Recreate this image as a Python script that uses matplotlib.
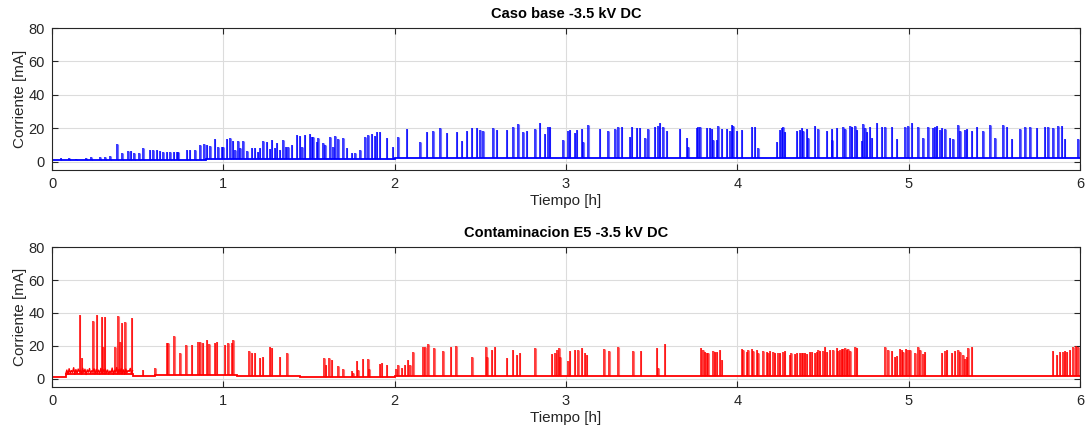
import numpy as np
import matplotlib
matplotlib.use("Agg")
import matplotlib.pyplot as plt

plt.rcParams['font.family'] = ['Liberation Sans', 'DejaVu Sans']

# ---- Caso base (blue) ----
base_edges = [0.0, 0.9, 2.0, 6.0]
base_levels = [1.0, 1.5, 2.0]

base_t = [0.05, 0.10, 0.14, 0.20, 0.23, 0.28, 0.31, 0.34, 0.38, 0.41, 0.445, 0.46, 0.48, 0.51,
          0.533, 0.57, 0.59, 0.61, 0.63, 0.65, 0.67, 0.69, 0.71, 0.73, 0.737, 0.786, 0.805,
          0.835, 0.864, 0.887, 0.903, 0.922, 0.951, 0.97, 0.99, 1.0, 1.019, 1.039, 1.054,
          1.07, 1.087, 1.10, 1.116, 1.14, 1.165, 1.184, 1.20, 1.213, 1.233, 1.253, 1.27, 1.282,
          1.30, 1.311, 1.33, 1.35, 1.365, 1.379, 1.40, 1.427, 1.447, 1.46, 1.476, 1.505, 1.516,
          1.525, 1.544, 1.555, 1.584, 1.594, 1.623, 1.64, 1.652, 1.671, 1.70, 1.72, 1.749,
          1.769, 1.798, 1.827, 1.846, 1.866, 1.885, 1.895, 1.914, 1.953, 1.988, 2.021, 2.07,
          2.148, 2.187, 2.226, 2.265, 2.303, 2.362, 2.391, 2.42, 2.449, 2.478, 2.498, 2.517,
          2.576, 2.595, 2.654, 2.692, 2.722, 2.751, 2.77, 2.819, 2.848, 2.877, 2.897, 2.906,
          2.984, 3.013, 3.023, 3.052, 3.062, 3.091, 3.101, 3.13, 3.198, 3.247, 3.286, 3.305,
          3.324, 3.373, 3.383, 3.412, 3.431, 3.461, 3.48, 3.519, 3.538, 3.548, 3.568, 3.587,
          3.665, 3.704, 3.713, 3.762, 3.772, 3.782, 3.82, 3.84, 3.85, 3.859, 3.879, 3.889,
          3.908, 3.937, 3.957, 3.966, 3.976, 3.996, 4.025, 4.083, 4.102, 4.122, 4.229, 4.248,
          4.258, 4.268, 4.277, 4.346, 4.365, 4.375, 4.385, 4.404, 4.414, 4.453, 4.472, 4.521,
          4.55, 4.555, 4.579, 4.619, 4.629, 4.658, 4.667, 4.687, 4.697, 4.726, 4.736, 4.745,
          4.755, 4.774, 4.784, 4.813, 4.842, 4.862, 4.90, 4.93, 4.979, 4.998, 5.018, 5.056,
          5.086, 5.115, 5.144, 5.154, 5.163, 5.183, 5.193, 5.212, 5.241, 5.261, 5.29, 5.30,
          5.329, 5.338, 5.368, 5.397, 5.436, 5.475, 5.504, 5.552, 5.572, 5.601, 5.65, 5.679,
          5.708, 5.747, 5.795, 5.815, 5.844, 5.873, 5.893, 5.912, 5.99]
base_i = [2.0, 2.2, 1.8, 2.0, 2.5, 3.0, 3.0, 3.5, 10.3, 4.9, 6.5, 6.5, 5.0, 5.3,
          8.3, 6.9, 7.0, 6.9, 6.5, 5.9, 6.0, 5.9, 6.0, 6.0, 5.5, 6.9, 7.0,
          6.9, 9.9, 10.3, 9.9, 9.3, 13.5, 8.9, 9.0, 8.9, 13.3, 13.9, 12.5,
          7.0, 12.5, 8.0, 12.5, 6.5, 7.9, 8.0, 6.0, 7.9, 12.5, 11.9, 7.5, 12.9,
          8.0, 10.9, 7.0, 12.9, 9.0, 8.9, 10.0, 15.9, 15.3, 9.0, 15.9, 16.5, 14.9,
          14.9, 11.9, 13.9, 10.9, 9.9, 14.9, 9.0, 15.3, 13.3, 13.9, 7.9, 4.9,
          4.9, 6.9, 14.9, 15.9, 16.5, 15.3, 17.5, 17.9, 13.9, 8.9, 14.9, 19.3,
          11.9, 17.9, 18.5, 20.0, 16.9, 17.9, 12.5, 18.5, 20.0, 20.0, 19.0, 18.5,
          20.0, 19.0, 19.0, 20.7, 22.7, 18.0, 18.5, 19.3, 23.1, 16.5, 20.5, 20.9,
          12.9, 18.5, 19.0, 16.9, 19.0, 19.3, 11.9, 21.9, 19.3, 18.5, 19.3, 20.5,
          20.5, 14.9, 20.5, 19.9, 19.9, 13.9, 19.3, 20.5, 21.3, 22.9, 20.9, 18.5,
          19.3, 13.9, 8.9, 19.9, 20.5, 20.5, 19.9, 19.9, 19.3, 12.9, 12.9, 21.3,
          19.3, 19.3, 18.5, 21.9, 21.3, 18.5, 18.9, 20.5, 20.5, 7.9, 11.9, 18.9,
          19.9, 20.5, 17.9, 18.5, 18.9, 19.9, 18.5, 19.3, 13.9, 21.3, 19.3, 18.5,
          19.3, 12.9, 19.9, 20.5, 19.3, 21.3, 20.9, 21.3, 18.9, 12.5, 22.5, 19.9,
          17.9, 20.5, 13.9, 22.9, 20.9, 20.5, 20.5, 13.3, 20.5, 21.3, 23.3, 20.9,
          13.9, 20.5, 19.9, 20.9, 21.3, 18.9, 19.9, 19.3, 13.9, 13.3, 21.9, 18.5,
          18.9, 19.3, 18.5, 20.5, 18.5, 21.9, 13.9, 21.9, 20.5, 13.3, 19.3, 20.5,
          20.5, 19.9, 20.5, 20.5, 19.9, 21.3, 21.3, 13.3, 13.3]

# ---- Contaminacion E5 (red) ----
cont_edges = [0.0, 0.08, 0.47, 0.60, 1.08, 1.45, 2.0, 6.0]
cont_levels = [1.3, 3.0, 1.5, 2.5, 1.9, 1.3, 2.0]
noise_start, noise_end = 0.08, 0.47
cont_noise = [3.1, 5.4, 2.8, 6.2, 3.6, 5.1, 4.0, 6.8, 2.9, 5.7, 3.4, 6.0, 4.4, 5.2, 3.0, 6.5,
              3.8, 5.9, 2.7, 5.5, 4.1, 6.3, 3.3, 5.0, 4.6, 6.1, 3.2, 5.8, 3.9, 5.3, 2.9, 6.4,
              3.7, 5.6, 4.2, 6.0, 3.5, 5.4, 3.0, 4.8, 3.6, 6.6, 2.8, 5.2, 4.3, 6.9, 3.1, 5.7,
              4.0, 6.2, 3.3, 5.5, 2.9, 6.0, 3.8, 5.1, 4.5, 6.4, 3.2, 5.0]

cont_t = [0.163, 0.173, 0.241, 0.261, 0.29, 0.30, 0.309, 0.368, 0.387, 0.397, 0.406, 0.426,
          0.465, 0.529, 0.601, 0.669, 0.679, 0.712, 0.747, 0.782, 0.815, 0.854, 0.864, 0.879,
          0.902, 0.918, 0.951, 0.961, 1.009, 1.029, 1.048, 1.058, 1.151, 1.165, 1.184, 1.213,
          1.229, 1.272, 1.282, 1.33, 1.373, 1.588, 1.599, 1.619, 1.632, 1.671, 1.701, 1.749,
          1.759, 1.778, 1.788, 1.813, 1.846, 1.852, 1.914, 1.924, 1.953, 2.008, 2.021, 2.041,
          2.06, 2.076, 2.09, 2.109, 2.167, 2.177, 2.197, 2.231, 2.284, 2.327, 2.358, 2.453,
          2.533, 2.541, 2.566, 2.585, 2.654, 2.689, 2.712, 2.731, 2.819, 2.916, 2.936, 2.949,
          2.961, 2.965, 3.013, 3.023, 3.052, 3.072, 3.091, 3.11, 3.12, 3.223, 3.253, 3.305,
          3.393, 3.437, 3.529, 3.538, 3.577, 3.787, 3.801, 3.811, 3.82, 3.83, 3.859, 3.869,
          3.879, 3.898, 3.908, 4.025, 4.034, 4.054, 4.064, 4.083, 4.093, 4.112, 4.122, 4.151,
          4.171, 4.18, 4.19, 4.21, 4.219, 4.239, 4.248, 4.268, 4.277, 4.307, 4.316, 4.336,
          4.346, 4.365, 4.375, 4.385, 4.394, 4.404, 4.423, 4.433, 4.453, 4.462, 4.472, 4.482,
          4.501, 4.511, 4.521, 4.54, 4.56, 4.579, 4.589, 4.599, 4.609, 4.619, 4.629, 4.638,
          4.648, 4.658, 4.687, 4.697, 4.862, 4.881, 4.901, 4.92, 4.93, 4.949, 4.959, 4.969,
          4.984, 4.998, 5.008, 5.037, 5.056, 5.066, 5.086, 5.095, 5.193, 5.212, 5.222, 5.251,
          5.27, 5.29, 5.30, 5.319, 5.329, 5.338, 5.348, 5.368, 5.84, 5.864, 5.883, 5.903,
          5.912, 5.922, 5.941, 5.961, 5.976, 5.99]
cont_i = [38.6, 12.6, 35.2, 38.6, 37.6, 19.6, 37.6, 19.6, 38.2, 22.6, 34.0, 34.6,
          37.2, 5.2, 6.6, 22.0, 22.0, 26.0, 15.6, 20.6, 20.6, 22.6, 22.6, 22.0,
          23.6, 21.2, 21.6, 22.2, 20.6, 21.6, 22.0, 23.6, 17.2, 15.6, 16.0, 12.6,
          13.2, 19.2, 18.6, 13.2, 15.6, 12.6, 8.6, 12.6, 11.2, 7.6, 6.0, 4.6,
          3.6, 10.6, 5.6, 12.0, 12.2, 6.0, 9.2, 9.6, 8.2, 6.0, 8.6, 6.6,
          8.2, 11.2, 8.6, 16.6, 19.2, 19.2, 21.0, 18.6, 17.2, 19.2, 20.0, 13.2,
          19.6, 13.6, 17.6, 19.6, 12.6, 17.6, 14.6, 16.0, 19.0, 15.2, 16.0, 17.6,
          18.6, 13.6, 10.6, 17.0, 17.6, 17.6, 19.0, 15.6, 14.6, 18.0, 17.2, 19.2,
          17.2, 17.2, 18.6, 6.6, 21.0, 19.0, 17.6, 16.6, 16.0, 16.0, 17.2, 16.6,
          16.6, 17.6, 11.6, 18.0, 17.6, 16.6, 17.6, 18.2, 17.2, 17.6, 15.6, 17.2,
          16.6, 15.6, 17.0, 16.6, 15.6, 16.0, 16.0, 16.6, 17.2, 14.6, 15.6, 15.2,
          15.6, 15.6, 15.6, 15.6, 16.0, 15.2, 16.6, 16.6, 16.0, 16.6, 17.6, 17.0,
          17.2, 19.2, 16.6, 17.6, 17.6, 18.6, 17.2, 17.6, 18.0, 18.2, 18.6, 17.6,
          18.0, 17.2, 19.2, 18.6, 19.6, 17.6, 17.2, 13.6, 14.0, 18.0, 17.6, 16.6,
          18.0, 17.6, 17.6, 15.6, 19.2, 17.6, 15.2, 16.6, 16.0, 17.2, 17.6, 15.6,
          17.2, 17.6, 16.6, 14.6, 12.2, 13.2, 18.6, 19.2, 17.2, 14.6, 16.6, 16.6,
          17.0, 16.6, 17.6, 19.2, 20.0, 19.6]


def level_at(t, edges, levels):
    idx = np.searchsorted(edges, t, side='right') - 1
    return np.asarray(levels)[np.clip(idx, 0, len(levels) - 1)]


def draw_panel(ax, edges, levels, sp_t, sp_v, color, title, noise=None):
    sp_t = np.asarray(sp_t)
    lv = level_at(sp_t, edges, levels)
    ax.stairs(levels, edges, color=color, lw=1.3, baseline=None)
    if noise is not None:
        nt = np.linspace(noise_start, noise_end, len(noise))
        ax.plot(nt, noise, color=color, lw=1.0)
    ax.vlines(sp_t, lv, sp_v, color=color, lw=1.1)
    ax.vlines(sp_t + 0.003, lv, sp_v, color=color, lw=0.8, alpha=0.55)
    ax.set_xlim(0, 6)
    ax.set_ylim(-5, 80)
    ax.set_yticks([0, 20, 40, 60, 80])
    ax.set_xticks([0, 1, 2, 3, 4, 5, 6])
    ax.grid(True, color='#dcdcdc', lw=0.8)
    ax.set_axisbelow(True)
    ax.tick_params(direction='in', top=True, right=True, length=4, width=0.8,
                   labelsize=10.5, colors='#262626', pad=5)
    for s in ax.spines.values():
        s.set_color('#262626')
        s.set_linewidth(0.8)
    ax.set_title(title, fontsize=10.5, fontweight='bold', pad=7)
    ax.set_xlabel('Tiempo [h]', fontsize=11, color='#262626', labelpad=2)
    ax.set_ylabel('Corriente [mA]', fontsize=11, color='#262626', labelpad=1)


fig = plt.figure(figsize=(10.86, 4.38), dpi=100)
ax1 = fig.add_axes([0.0479, 0.612, 0.9466, 0.324])
ax2 = fig.add_axes([0.0479, 0.116, 0.9466, 0.320])

draw_panel(ax1, base_edges, base_levels, base_t, base_i, '#0000ff', 'Caso base -3.5 kV DC')
draw_panel(ax2, cont_edges, cont_levels, cont_t, cont_i, '#ff0000', 'Contaminacion E5 -3.5 kV DC',
           noise=cont_noise)

fig.savefig('out.png', dpi=100)
